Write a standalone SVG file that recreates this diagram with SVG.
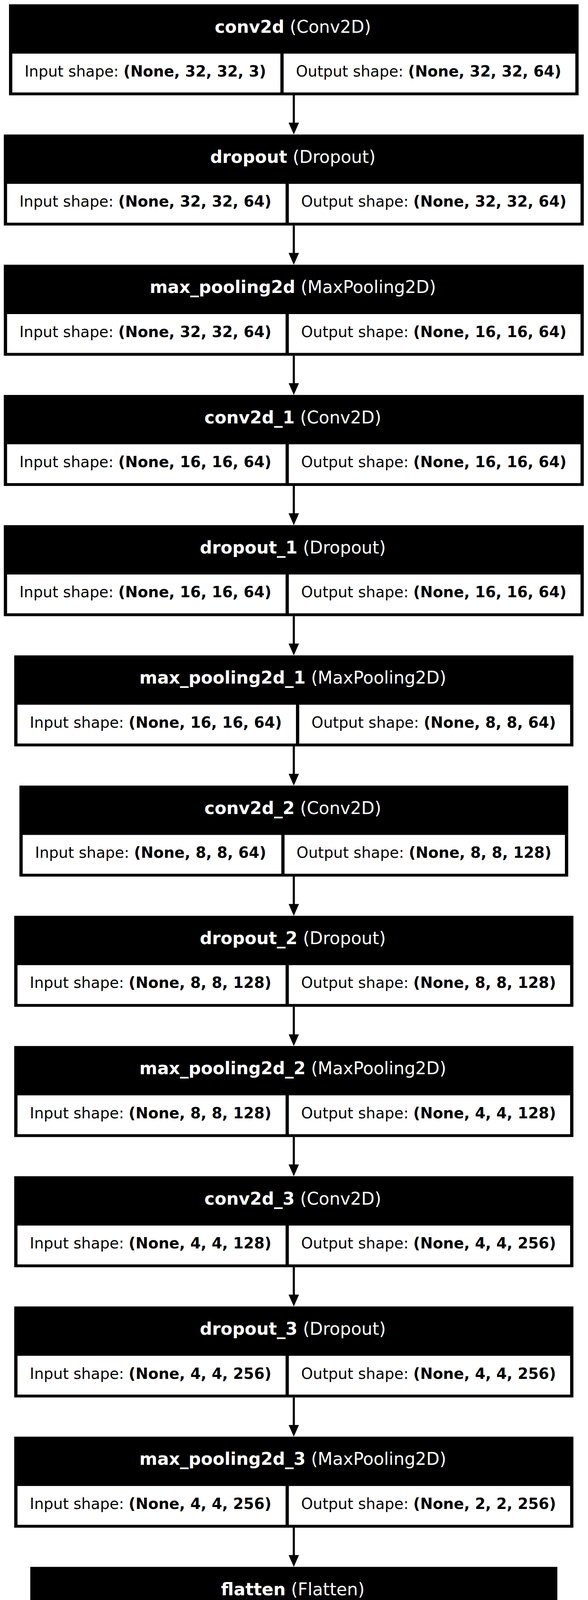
<svg xmlns="http://www.w3.org/2000/svg" width="1506" height="5922" viewBox="0 0 1506 5922">
<style>
.box{fill:#000}
.cell{fill:#fff}
.h{font-family:"DejaVu Sans","Liberation Sans",sans-serif;font-size:44px;fill:#fff;text-anchor:middle}
.t{font-family:"DejaVu Sans","Liberation Sans",sans-serif;font-size:38.5px;fill:#000}
.b{font-weight:bold}
.edge{stroke:#000;stroke-width:5.5;fill:none}
</style>
<defs>
<marker id="ah" markerUnits="userSpaceOnUse" markerWidth="31" markerHeight="28" viewBox="0 0 31 28" refX="1" refY="13.35" orient="auto">
<path d="M0,0 L30.3,13.35 L0,26.7 z" fill="#000"/>
</marker>
</defs>
<rect width="1506" height="5922" fill="#fff"/>
<g id="connectors">
<line class="edge" x1="752.5" y1="244" x2="752.5" y2="315.05" marker-end="url(#ah)"/>
<line class="edge" x1="752.5" y1="577.35" x2="752.5" y2="648.4" marker-end="url(#ah)"/>
<line class="edge" x1="752.5" y1="910.7" x2="752.5" y2="981.75" marker-end="url(#ah)"/>
<line class="edge" x1="752.5" y1="1244.05" x2="752.5" y2="1315.1" marker-end="url(#ah)"/>
<line class="edge" x1="752.5" y1="1577.4" x2="752.5" y2="1648.45" marker-end="url(#ah)"/>
<line class="edge" x1="752.5" y1="1910.75" x2="752.5" y2="1981.8" marker-end="url(#ah)"/>
<line class="edge" x1="752.5" y1="2244.1" x2="752.5" y2="2315.15" marker-end="url(#ah)"/>
<line class="edge" x1="752.5" y1="2577.45" x2="752.5" y2="2648.5" marker-end="url(#ah)"/>
<line class="edge" x1="752.5" y1="2910.8" x2="752.5" y2="2981.85" marker-end="url(#ah)"/>
<line class="edge" x1="752.5" y1="3244.15" x2="752.5" y2="3315.2" marker-end="url(#ah)"/>
<line class="edge" x1="752.5" y1="3577.5" x2="752.5" y2="3648.55" marker-end="url(#ah)"/>
<line class="edge" x1="752.5" y1="3910.85" x2="752.5" y2="3981.9" marker-end="url(#ah)"/>
<line class="edge" x1="752.5" y1="4244.2" x2="752.5" y2="4315.25" marker-end="url(#ah)"/>
<line class="edge" x1="752.5" y1="4577.55" x2="752.5" y2="4648.6" marker-end="url(#ah)"/>
<line class="edge" x1="752.5" y1="4910.9" x2="752.5" y2="4981.95" marker-end="url(#ah)"/>
<line class="edge" x1="752.5" y1="5244.25" x2="752.5" y2="5315.3" marker-end="url(#ah)"/>
<line class="edge" x1="752.5" y1="5577.6" x2="752.5" y2="5648.65" marker-end="url(#ah)"/>
</g>

<g id="conv2d" transform="translate(0,11)">
<rect class="box" x="23.08" y="0" width="1458.85" height="233"/>
<rect class="cell" x="31.48" y="126.3" width="686.65" height="99.4"/>
<rect class="cell" x="726.43" y="126.3" width="747.1" height="99.4"/>
<text class="h" x="750" y="72.5"><tspan class="b">conv2d</tspan> (Conv2D)</text>
<text class="t" x="62.98" y="185">Input shape: <tspan class="b">(None, 32, 32, 3)</tspan></text>
<text class="t" x="757.93" y="185">Output shape: <tspan class="b">(None, 32, 32, 64)</tspan></text>
</g>

<g id="dropout" transform="translate(0,344.35)">
<rect class="box" x="9.76" y="0" width="1485.48" height="233"/>
<rect class="cell" x="18.16" y="126.3" width="713.28" height="99.4"/>
<rect class="cell" x="739.74" y="126.3" width="747.1" height="99.4"/>
<text class="h" x="750" y="72.5"><tspan class="b">dropout</tspan> (Dropout)</text>
<text class="t" x="49.66" y="185">Input shape: <tspan class="b">(None, 32, 32, 64)</tspan></text>
<text class="t" x="771.24" y="185">Output shape: <tspan class="b">(None, 32, 32, 64)</tspan></text>
</g>

<g id="max_pooling2d" transform="translate(0,677.7)">
<rect class="box" x="9.76" y="0" width="1485.48" height="233"/>
<rect class="cell" x="18.16" y="126.3" width="713.28" height="99.4"/>
<rect class="cell" x="739.74" y="126.3" width="747.1" height="99.4"/>
<text class="h" x="750" y="72.5"><tspan class="b">max_pooling2d</tspan> (MaxPooling2D)</text>
<text class="t" x="49.66" y="185">Input shape: <tspan class="b">(None, 32, 32, 64)</tspan></text>
<text class="t" x="771.24" y="185">Output shape: <tspan class="b">(None, 16, 16, 64)</tspan></text>
</g>

<g id="conv2d_1" transform="translate(0,1011.05)">
<rect class="box" x="9.76" y="0" width="1485.48" height="233"/>
<rect class="cell" x="18.16" y="126.3" width="713.28" height="99.4"/>
<rect class="cell" x="739.74" y="126.3" width="747.1" height="99.4"/>
<text class="h" x="750" y="72.5"><tspan class="b">conv2d_1</tspan> (Conv2D)</text>
<text class="t" x="49.66" y="185">Input shape: <tspan class="b">(None, 16, 16, 64)</tspan></text>
<text class="t" x="771.24" y="185">Output shape: <tspan class="b">(None, 16, 16, 64)</tspan></text>
</g>

<g id="dropout_1" transform="translate(0,1344.4)">
<rect class="box" x="9.76" y="0" width="1485.48" height="233"/>
<rect class="cell" x="18.16" y="126.3" width="713.28" height="99.4"/>
<rect class="cell" x="739.74" y="126.3" width="747.1" height="99.4"/>
<text class="h" x="750" y="72.5"><tspan class="b">dropout_1</tspan> (Dropout)</text>
<text class="t" x="49.66" y="185">Input shape: <tspan class="b">(None, 16, 16, 64)</tspan></text>
<text class="t" x="771.24" y="185">Output shape: <tspan class="b">(None, 16, 16, 64)</tspan></text>
</g>

<g id="max_pooling2d_1" transform="translate(0,1677.75)">
<rect class="box" x="36.38" y="0" width="1432.23" height="233"/>
<rect class="cell" x="44.78" y="126.3" width="713.28" height="99.4"/>
<rect class="cell" x="766.36" y="126.3" width="693.85" height="99.4"/>
<text class="h" x="750" y="72.5"><tspan class="b">max_pooling2d_1</tspan> (MaxPooling2D)</text>
<text class="t" x="76.28" y="185">Input shape: <tspan class="b">(None, 16, 16, 64)</tspan></text>
<text class="t" x="797.86" y="185">Output shape: <tspan class="b">(None, 8, 8, 64)</tspan></text>
</g>

<g id="conv2d_2" transform="translate(0,2011.1)">
<rect class="box" x="49.7" y="0" width="1405.59" height="233"/>
<rect class="cell" x="58.1" y="126.3" width="662.4" height="99.4"/>
<rect class="cell" x="728.8" y="126.3" width="718.09" height="99.4"/>
<text class="h" x="750" y="72.5"><tspan class="b">conv2d_2</tspan> (Conv2D)</text>
<text class="t" x="89.8" y="185">Input shape: <tspan class="b">(None, 8, 8, 64)</tspan></text>
<text class="t" x="759.6" y="185">Output shape: <tspan class="b">(None, 8, 8, 128)</tspan></text>
</g>

<g id="dropout_2" transform="translate(0,2344.45)">
<rect class="box" x="36.39" y="0" width="1432.22" height="233"/>
<rect class="cell" x="44.79" y="126.3" width="686.65" height="99.4"/>
<rect class="cell" x="739.74" y="126.3" width="720.47" height="99.4"/>
<text class="h" x="750" y="72.5"><tspan class="b">dropout_2</tspan> (Dropout)</text>
<text class="t" x="76.29" y="185">Input shape: <tspan class="b">(None, 8, 8, 128)</tspan></text>
<text class="t" x="771.24" y="185">Output shape: <tspan class="b">(None, 8, 8, 128)</tspan></text>
</g>

<g id="max_pooling2d_2" transform="translate(0,2677.8)">
<rect class="box" x="36.39" y="0" width="1432.22" height="233"/>
<rect class="cell" x="44.79" y="126.3" width="686.65" height="99.4"/>
<rect class="cell" x="739.74" y="126.3" width="720.47" height="99.4"/>
<text class="h" x="750" y="72.5"><tspan class="b">max_pooling2d_2</tspan> (MaxPooling2D)</text>
<text class="t" x="76.29" y="185">Input shape: <tspan class="b">(None, 8, 8, 128)</tspan></text>
<text class="t" x="771.24" y="185">Output shape: <tspan class="b">(None, 4, 4, 128)</tspan></text>
</g>

<g id="conv2d_3" transform="translate(0,3011.15)">
<rect class="box" x="36.39" y="0" width="1432.22" height="233"/>
<rect class="cell" x="44.79" y="126.3" width="686.65" height="99.4"/>
<rect class="cell" x="739.74" y="126.3" width="720.47" height="99.4"/>
<text class="h" x="750" y="72.5"><tspan class="b">conv2d_3</tspan> (Conv2D)</text>
<text class="t" x="76.29" y="185">Input shape: <tspan class="b">(None, 4, 4, 128)</tspan></text>
<text class="t" x="771.24" y="185">Output shape: <tspan class="b">(None, 4, 4, 256)</tspan></text>
</g>

<g id="dropout_3" transform="translate(0,3344.5)">
<rect class="box" x="36.39" y="0" width="1432.22" height="233"/>
<rect class="cell" x="44.79" y="126.3" width="686.65" height="99.4"/>
<rect class="cell" x="739.74" y="126.3" width="720.47" height="99.4"/>
<text class="h" x="750" y="72.5"><tspan class="b">dropout_3</tspan> (Dropout)</text>
<text class="t" x="76.29" y="185">Input shape: <tspan class="b">(None, 4, 4, 256)</tspan></text>
<text class="t" x="771.24" y="185">Output shape: <tspan class="b">(None, 4, 4, 256)</tspan></text>
</g>

<g id="max_pooling2d_3" transform="translate(0,3677.85)">
<rect class="box" x="36.39" y="0" width="1432.22" height="233"/>
<rect class="cell" x="44.79" y="126.3" width="686.65" height="99.4"/>
<rect class="cell" x="739.74" y="126.3" width="720.47" height="99.4"/>
<text class="h" x="750" y="72.5"><tspan class="b">max_pooling2d_3</tspan> (MaxPooling2D)</text>
<text class="t" x="76.29" y="185">Input shape: <tspan class="b">(None, 4, 4, 256)</tspan></text>
<text class="t" x="771.24" y="185">Output shape: <tspan class="b">(None, 2, 2, 256)</tspan></text>
</g>

<g id="flatten" transform="translate(0,4011.2)">
<rect class="box" x="77.55" y="0" width="1349.89" height="233"/>
<rect class="cell" x="86.2" y="126.3" width="686.4" height="99.4"/>
<rect class="cell" x="780.9" y="126.3" width="638.14" height="99.4"/>
<text class="h" x="750" y="72.5"><tspan class="b">flatten</tspan> (Flatten)</text>
<text class="t" x="117.7" y="185">Input shape: <tspan class="b">(None, 2, 2, 256)</tspan></text>
<text class="t" x="812.4" y="185">Output shape: <tspan class="b">(None, 1024)</tspan></text>
</g>

<g id="dense" transform="translate(0,4344.55)">
<rect class="box" x="132.03" y="0" width="1240.93" height="233"/>
<rect class="cell" x="140.43" y="126.3" width="604.32" height="99.4"/>
<rect class="cell" x="753.05" y="126.3" width="611.51" height="99.4"/>
<text class="h" x="750" y="72.5"><tspan class="b">dense</tspan> (Dense)</text>
<text class="t" x="171.93" y="185">Input shape: <tspan class="b">(None, 1024)</tspan></text>
<text class="t" x="784.55" y="185">Output shape: <tspan class="b">(None, 512)</tspan></text>
</g>

<g id="dropout_4" transform="translate(0,4677.9)">
<rect class="box" x="145.35" y="0" width="1214.3" height="233"/>
<rect class="cell" x="153.75" y="126.3" width="577.69" height="99.4"/>
<rect class="cell" x="739.74" y="126.3" width="611.51" height="99.4"/>
<text class="h" x="750" y="72.5"><tspan class="b">dropout_4</tspan> (Dropout)</text>
<text class="t" x="185.25" y="185">Input shape: <tspan class="b">(None, 512)</tspan></text>
<text class="t" x="771.24" y="185">Output shape: <tspan class="b">(None, 512)</tspan></text>
</g>

<g id="dense_1" transform="translate(0,5011.25)">
<rect class="box" x="145.35" y="0" width="1214.3" height="233"/>
<rect class="cell" x="153.75" y="126.3" width="577.69" height="99.4"/>
<rect class="cell" x="739.74" y="126.3" width="611.51" height="99.4"/>
<text class="h" x="750" y="72.5"><tspan class="b">dense_1</tspan> (Dense)</text>
<text class="t" x="185.25" y="185">Input shape: <tspan class="b">(None, 512)</tspan></text>
<text class="t" x="771.24" y="185">Output shape: <tspan class="b">(None, 256)</tspan></text>
</g>

<g id="dropout_5" transform="translate(0,5344.6)">
<rect class="box" x="145.35" y="0" width="1214.3" height="233"/>
<rect class="cell" x="153.75" y="126.3" width="577.69" height="99.4"/>
<rect class="cell" x="739.74" y="126.3" width="611.51" height="99.4"/>
<text class="h" x="750" y="72.5"><tspan class="b">dropout_5</tspan> (Dropout)</text>
<text class="t" x="185.25" y="185">Input shape: <tspan class="b">(None, 256)</tspan></text>
<text class="t" x="771.24" y="185">Output shape: <tspan class="b">(None, 256)</tspan></text>
</g>

<g id="dense_2" transform="translate(0,5677.95)">
<rect class="box" x="158.66" y="0" width="1187.67" height="233"/>
<rect class="cell" x="167.06" y="126.3" width="577.69" height="99.4"/>
<rect class="cell" x="753.05" y="126.3" width="584.88" height="99.4"/>
<text class="h" x="750" y="72.5"><tspan class="b">dense_2</tspan> (Dense)</text>
<text class="t" x="198.56" y="185">Input shape: <tspan class="b">(None, 256)</tspan></text>
<text class="t" x="784.55" y="185">Output shape: <tspan class="b">(None, 10)</tspan></text>
</g>
</svg>
